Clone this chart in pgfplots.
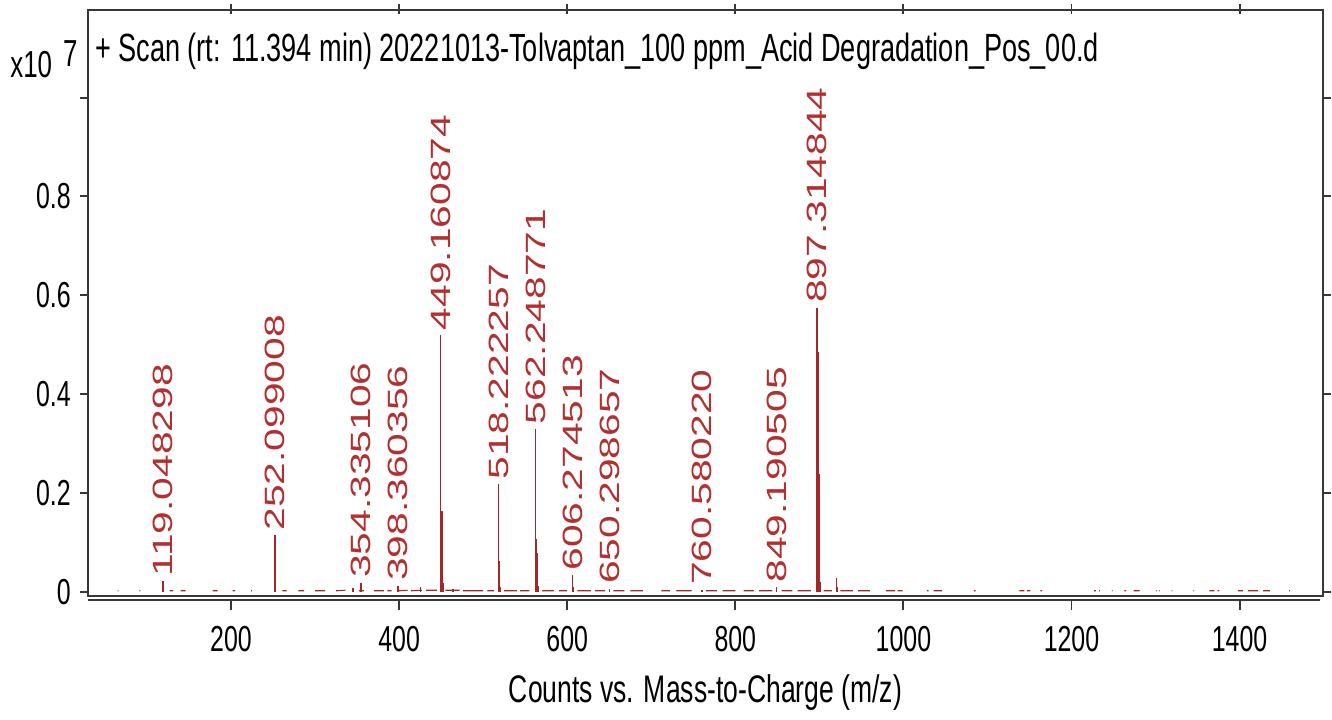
\documentclass[border=0pt]{standalone}
\usepackage{pgfplots}
\pgfplotsset{compat=1.18}
\usepackage{pgfplotstable}
\usepackage{fontspec}
\setmainfont{Liberation Sans}

\definecolor{peak}{RGB}{165,40,40}
\definecolor{peaklabel}{RGB}{178,48,48}
\definecolor{frame}{RGB}{55,55,55}

% centroid peaks: m/z, intensity (x10^7 counts)
\pgfplotstableread{
mz h
119.05 0.022
252.10 0.115
345.3 0.008
354.34 0.019
398.36 0.013
425.2 0.010
449.16 0.520
450.16 0.145
451.17 0.165
452.2 0.018
464.2 0.006
518.22 0.218
519.23 0.063
520.2 0.010
562.25 0.330
563.25 0.107
564.25 0.079
565.3 0.012
606.27 0.034
607.3 0.010
650.30 0.007
760.58 0.005
849.19 0.010
897.31 0.575
898.32 0.486
899.32 0.240
900.32 0.115
901.3 0.020
920.3 0.028
921.3 0.010
}\peaks

% annotated peaks
\pgfplotstableread{
mz h lab
119.048298 0.022 119.048298
252.099008 0.115 252.099008
354.335106 0.019 354.335106
398.360356 0.013 398.360356
449.160874 0.520 449.160874
518.222257 0.218 518.222257
562.248771 0.330 562.248771
606.274513 0.034 606.274513
650.298657 0.007 650.298657
760.580220 0.005 760.580220
849.190505 0.010 849.190505
897.314844 0.575 897.314844
}\labelled

% low-level baseline signal, drawn as short segments
\pgfplotstableread{
mz h
65 0.003
66 0.003
66 nan
91 0.003
92 0.003
92 nan
127 0.003
131 0.003
131 nan
140 0.003
146 0.003
146 nan
178 0.003
184 0.003
184 nan
202 0.003
205 0.003
205 nan
224 0.003
225 0.003
225 nan
261 0.003
266 0.003
266 nan
280 0.003
287 0.003
287 nan
300 0.003
312 0.003
312 nan
325 0.003
336 0.004
336 nan
352 0.003
358 0.003
358 nan
370 0.003
382 0.003
382 nan
386 0.003
391 0.003
391 nan
400 0.003
410 0.004
410 nan
414 0.003
427 0.004
427 nan
432 0.004
445 0.004
445 nan
455 0.004
472 0.004
472 nan
476 0.003
500 0.003
500 nan
505 0.003
513 0.003
513 nan
525 0.003
540 0.003
540 nan
544 0.003
555 0.003
555 nan
570 0.003
584 0.003
584 nan
590 0.003
600 0.003
600 nan
612 0.003
628 0.003
628 nan
633 0.003
645 0.003
645 nan
655 0.003
668 0.003
668 nan
675 0.003
690 0.003
690 nan
712 0.003
722 0.003
722 nan
730 0.003
748 0.003
748 nan
765 0.003
778 0.003
778 nan
785 0.003
800 0.003
800 nan
810 0.003
822 0.003
822 nan
828 0.003
844 0.003
844 nan
855 0.003
868 0.003
868 nan
874 0.003
890 0.003
890 nan
905 0.003
915 0.003
915 nan
925 0.003
940 0.003
940 nan
946 0.003
960 0.003
960 nan
979 0.003
990 0.003
990 nan
993 0.003
999 0.003
999 nan
1028 0.003
1030 0.003
1030 nan
1036 0.003
1046 0.003
1046 nan
1084 0.003
1086 0.003
1086 nan
1138 0.003
1144 0.003
1144 nan
1147 0.003
1151 0.003
1151 nan
1163 0.003
1165 0.003
1165 nan
1227 0.003
1229 0.003
1229 nan
1233 0.003
1234 0.003
1234 nan
1248 0.003
1249 0.003
1249 nan
1263 0.003
1265 0.003
1265 nan
1274 0.003
1281 0.003
1281 nan
1301 0.003
1302 0.003
1302 nan
1304 0.003
1305 0.003
1305 nan
1319 0.003
1320 0.003
1320 nan
1345 0.003
1346 0.003
1346 nan
1364 0.003
1370 0.003
1370 nan
1374 0.003
1376 0.003
1376 nan
1398 0.003
1404 0.003
1404 nan
1410 0.003
1422 0.003
1422 nan
1428 0.003
1436 0.003
1436 nan
1459 0.003
1460 0.003
}\baseline

\newcommand{\tickfont}{\fontsize{12.5}{14}\selectfont}

\begin{document}
\begin{tikzpicture}
\begin{axis}[
  scale only axis,
  width=619.5pt, height=294pt,
  xmin=29.5, xmax=1499.3,
  ymin=-0.008, ymax=1.177,
  axis line style={frame, line width=1pt},
  tick style={frame, line width=1pt},
  tick align=outside,
  major tick length=4pt,
  xtick={200,400,...,1400},
  ytick={0,0.2,0.4,0.6,0.8,1.0},
  yticklabels={0,0.2,0.4,0.6,0.8,},
  xtick style={yshift=-2pt, /pgfplots/major tick length=5pt},
  /pgf/number format/assume math mode=true,
  /pgf/number format/1000 sep={},
  ticklabel style={font=\tickfont, text=black, yscale=1.45},
  xticklabel style={yshift=-4pt},
  yticklabel style={xshift=-1pt},
  xlabel={Counts vs. Mass-to-Charge (m/z)},
  xlabel style={font=\fontsize{13.3}{15}\selectfont, yscale=1.45, yshift=-1pt},
  clip=false,
  every axis plot/.append style={line join=miter},
]
  % baseline signal
  \addplot[peak, line width=0.55pt, unbounded coords=jump, mark=none]
    table[x=mz, y=h] {\baseline};
  % centroid sticks
  \addplot[peak, line width=0.8pt, ycomb, mark=none]
    table[x=mz, y=h] {\peaks};
  % peak annotations
  \addplot[draw=none, mark=none,
    nodes near coords,
    point meta=explicit symbolic,
    every node near coord/.style={
      rotate=90, xscale=1.46, anchor=west, inner sep=0pt,
      xshift=1.5pt, text=peaklabel,
      font=\fontsize{14}{15}\selectfont},
  ] table[x=mz, y=h, meta=lab] {\labelled};

  \node[anchor=base west, inner sep=0pt, yscale=1.45,
        font=\fontsize{13.6}{15}\selectfont]
    at ([xshift=3.5pt]rel axis cs:0,0.9116)
    {+ Scan (rt: 11.394 min) 20221013-Tolvaptan\_100 ppm\_Acid Degradation\_Pos\_00.d};
  \node[anchor=base west, inner sep=0pt, yscale=1.45,
        font=\fontsize{13}{14}\selectfont]
    at ([xshift=-39pt]rel axis cs:0,0.884)
    {x10\hspace{5.5pt}\raisebox{3.8pt}{7}};
\end{axis}
\draw[frame, line width=1pt]
  ([yshift=-2pt]current axis.south west) -- ([yshift=-2pt, xshift=-1.5pt]current axis.south east);
\path ([xshift=-44pt, yshift=-60pt]current axis.south west) rectangle ++(666pt,359pt);
\end{tikzpicture}
\end{document}
